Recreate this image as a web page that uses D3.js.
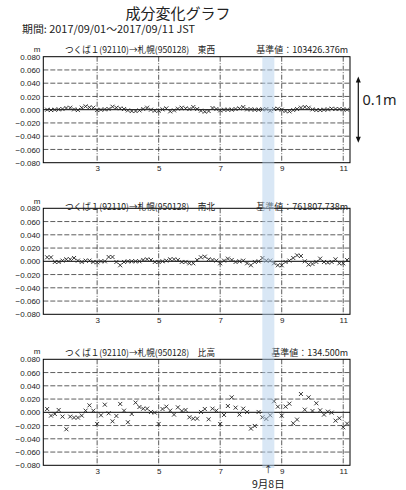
<!DOCTYPE html>
<html>
<head>
<meta charset="utf-8">
<script src="https://cdn.jsdelivr.net/npm/d3@7"></script>
<style>
  body { margin: 0; background: #fff; }
  text { fill: #222; }
</style>
</head>
<body>
<script>
// 3-hourly solutions, 2017/09/01 09:00 .. 2017/09/11 03:00 (day-of-month units)
var days = d3.range(79).map(function(i) { return 1.375 + i * 0.125; });

// values in mm
var ewValues = [0, -0.5, 0, 0.5, 1, 2.5, 3, 0.5, -0.5, 3, 5, 3.5, 3, -0.5, 0, 0.5, 1, 4.5, 3, 2,
  1, -1, -2, -2, -1, 1, 3, 0, -1.5, -1.5, 0.5, 2, -2.5, -1, 1.5, 3, 2, 1, 4, 1,
  -1.5, -3, -2, 2.5, 1, -1, 0, 0, 0, 1, 2, 4, 0.5, 0.5, 0, 0, 0.5, 1, -1.5, 1,
  1.5, 0, -2, -2.5, -0.5, 1, 3, 4, 3, 0.5, -0.5, -0.5, 0, 0.5, 1.5, 1, 1, 0.5, 0];
var nsValues = [6, 6, -1, -1, 1, 3, 3, 5, 1, -1, 1, 1, -1, -1.5, 0, 0, 6.5, 6.5, -1, -6,
  -1, 0, 0, 0, 0, 2, 3, 2, -1, -1, 0, 1, 3, 3, 2, -1, -1, -3, -3, 2,
  6, 7, 3, 2, 1, -3, 1, 4, 2, -1, 0, 1, -3, -6, -1, 0, 5, 1, 1, -3,
  -6, -6, -1, 1, 5, 9, 8, 0, -5, -4, -1, 4, -1, -2, -1, 3, -3, -3, 2];
var upValues = [5, -5, -2.5, 3.5, -6.5, -25.6, -6.5, -8, -8, -5, 2.5, 10.5, 2.5, -17.6, -4.5, 11.5, -1.5, -13.6, -5.5, 12.6,
  2.5, -15, -2.5, 14.6, 8, 5.5, 5.5, 0.5, -0.5, -17.6, 5, 8.5, 2.5, -3.5, 7.5, 2, 3.5, -7.5, -9.5, -9.5,
  0.5, 5, -10.5, 5.5, 2.5, -17.6, -4, 9.5, 22.6, 7, -3.5, 5.5, 0.5, -24.6, -20.6, 0.5, -7.5, -10, -4.5, 16.6,
  8.5, -5, 8.5, 13, -16.6, -11, 27.6, 4, 22.6, 2, 13.6, 3, -3.5, 1, -0.5, -12.6, -9, -22.6, -17];

var componentNames = ["東西", "南北", "比高"];
var baseValues = ["103426.376m", "761807.738m", "134.500m"];
var seriesList = [ewValues, nsValues, upValues];
var yTicks = [-80, -60, -40, -20, 0, 20, 40, 60, 80];
var xTicks = [3, 5, 7, 9, 11];
var xDomain = [1.25, 11.22];
var eventSpan = [8.37, 8.76];

var W = 406, H = 490;
var left = 43.3, right = 350, ph = 106;
var panelTops = [56.7, 208.3, 359.3];
var headerDy = [-3.7, 1.5, -3.4];
var mDy = [-5, -4.5, -5.5];

var jp = "'Noto Sans CJK JP', sans-serif";
var num = "'Liberation Sans', Arial, sans-serif";

var svg = d3.select("body").append("svg")
    .attr("width", W)
    .attr("height", H);

svg.append("text")
    .attr("x", 178).attr("y", 18.5)
    .attr("text-anchor", "middle")
    .style("font-family", jp).style("font-size", "15px")
    .text("成分変化グラフ");

svg.append("text")
    .attr("x", 22).attr("y", 33)
    .attr("textLength", 173).attr("lengthAdjust", "spacingAndGlyphs")
    .style("font-family", jp).style("font-size", "10.5px")
    .text("期間: 2017/09/01～2017/09/11 JST");

var x = d3.scaleLinear().domain(xDomain).range([left, right]);
var marker = "M-2,-2L2,2M-2,2L2,-2";

seriesList.forEach(function(values, k) {
    var top = panelTops[k];
    var y = d3.scaleLinear().domain([-80, 80]).range([ph, 0]);
    var g = svg.append("g").attr("transform", "translate(0," + top + ")");

    // horizontal grid
    g.selectAll("line.hg")
        .data(yTicks.filter(function(t) { return t !== 0 && Math.abs(t) !== 80; }))
        .enter().append("line")
        .attr("class", "hg")
        .attr("x1", left).attr("x2", right)
        .attr("y1", function(d) { return y(d); })
        .attr("y2", function(d) { return y(d); })
        .attr("stroke", "#333").attr("stroke-width", 0.8)
        .attr("stroke-dasharray", "5,2");

    // vertical grid
    g.selectAll("line.vg")
        .data(xTicks)
        .enter().append("line")
        .attr("class", "vg")
        .attr("x1", function(d) { return x(d); })
        .attr("x2", function(d) { return x(d); })
        .attr("y1", 0).attr("y2", ph)
        .attr("stroke", "#333").attr("stroke-width", 0.8)
        .attr("stroke-dasharray", "5,1.5,1,1.5");

    g.append("line")
        .attr("x1", left).attr("x2", right)
        .attr("y1", y(0)).attr("y2", y(0))
        .attr("stroke", "#000").attr("stroke-width", 1);

    g.append("rect")
        .attr("x", left).attr("y", 0)
        .attr("width", right - left).attr("height", ph)
        .attr("fill", "none").attr("stroke", "#000").attr("stroke-width", 1);

    g.selectAll("path.pt")
        .data(values)
        .enter().append("path")
        .attr("class", "pt")
        .attr("d", marker)
        .attr("transform", function(d, i) { return "translate(" + x(days[i]) + "," + y(d) + ")"; })
        .attr("fill", "none")
        .attr("stroke", "#222").attr("stroke-width", 0.9);

    var ya = g.append("g")
        .attr("transform", "translate(" + left + ",0)")
        .call(d3.axisLeft(y).tickValues(yTicks).tickSize(0).tickPadding(3)
            .tickFormat(function(d) { return d3.format(".3f")(d / 1000); }));
    ya.select(".domain").remove();
    ya.selectAll("text").style("font-family", num).style("font-size", "8px").attr("fill", "#222");

    var xa = g.append("g")
        .attr("transform", "translate(0," + ph + ")")
        .call(d3.axisBottom(x).tickValues(xTicks).tickSize(0).tickPadding(3));
    xa.select(".domain").remove();
    xa.selectAll("text").style("font-family", num).style("font-size", "8px").attr("fill", "#222");

    g.append("text")
        .attr("x", 37).attr("y", mDy[k])
        .attr("text-anchor", "middle")
        .style("font-family", num).style("font-size", "8px")
        .text("m");

    g.append("text")
        .attr("x", 65).attr("y", headerDy[k])
        .attr("textLength", 150).attr("lengthAdjust", "spacingAndGlyphs")
        .style("font-family", jp).style("font-size", "9px")
        .text("つくば１(92110)→札幌(950128)　" + componentNames[k]);

    g.append("text")
        .attr("x", 348).attr("y", headerDy[k])
        .attr("text-anchor", "end")
        .style("font-family", jp).style("font-size", "9px")
        .text("基準値：" + baseValues[k]);
});

// highlighted day band
svg.append("rect")
    .attr("x", x(eventSpan[0]))
    .attr("y", panelTops[0])
    .attr("width", x(eventSpan[1]) - x(eventSpan[0]))
    .attr("height", 468 - panelTops[0])
    .attr("fill", "#b4d0ec")
    .attr("opacity", 0.5);

var cx = x((eventSpan[0] + eventSpan[1]) / 2);
svg.append("text")
    .attr("x", cx).attr("y", 473)
    .attr("text-anchor", "middle")
    .style("font-family", jp).style("font-size", "9px")
    .text("↑");
svg.append("text")
    .attr("x", cx).attr("y", 488)
    .attr("text-anchor", "middle")
    .style("font-family", jp).style("font-size", "10.5px")
    .text("9月8日");

// 0.1m scale arrow
var ys = d3.scaleLinear().domain([-80, 80]).range([panelTops[0] + ph, panelTops[0]]);
var ax = 358.3, a1 = ys(50), a2 = ys(-50);
svg.append("line")
    .attr("x1", ax).attr("x2", ax)
    .attr("y1", a1 + 4).attr("y2", a2 - 4)
    .attr("stroke", "#111").attr("stroke-width", 1.2);
svg.append("path")
    .attr("d", "M" + ax + "," + a1 + "l-2.5,6h5z M" + ax + "," + a2 + "l-2.5,-6h5z")
    .attr("fill", "#111");
svg.append("text")
    .attr("x", 362.5).attr("y", 105)
    .style("font-family", "'Noto Sans', sans-serif").style("font-size", "14.5px")
    .text("0.1m");
</script>
</body>
</html>
